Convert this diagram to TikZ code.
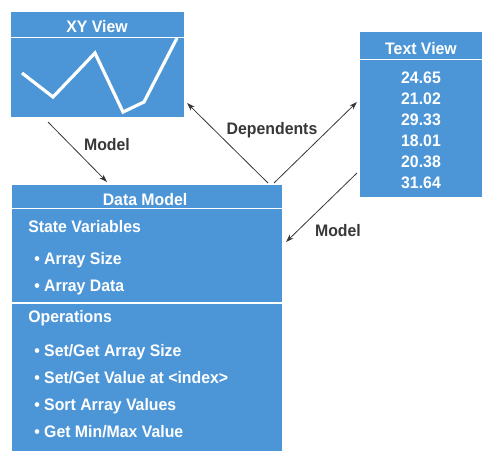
\documentclass[tikz,border=0pt]{standalone}
\usepackage{fontspec}
\setmainfont{Liberation Sans}[FakeStretch=0.95]
\usetikzlibrary{arrows.meta,positioning}

\definecolor{panel}{RGB}{76,150,216}
\definecolor{ink}{RGB}{55,55,55}

\tikzset{
    panelbox/.style={fill=panel, inner sep=0pt, anchor=north west},
    titletxt/.style={text=white, font=\bfseries\fontsize{12.5}{14}\selectfont, inner sep=0pt, anchor=base},
    itemtxt/.style={text=white, font=\bfseries\fontsize{12.5}{14}\selectfont, inner sep=0pt, anchor=base west},
    numtxt/.style={text=white, font=\bfseries\fontsize{12.5}{14}\selectfont, inner sep=0pt, anchor=base},
    linktxt/.style={text=ink, font=\bfseries\fontsize{12.5}{14}\selectfont, inner sep=0pt, anchor=base},
    link/.style={draw=ink, line width=0.6pt, -{Stealth[length=6pt,width=4pt]}},
    rule/.style={draw=white, line width=1.4pt}
}

\begin{document}
\begin{tikzpicture}[x=0.75pt, y=-0.75pt]
    \useasboundingbox (0,0) rectangle (482,451);

    % Boxes
    \node[panelbox, minimum width=173*0.75pt, minimum height=105*0.75pt] (xy) at (11,12) {};
    \node[panelbox, minimum width=122*0.75pt, minimum height=165*0.75pt] (tv) at (360,32) {};
    \node[panelbox, minimum width=270*0.75pt, minimum height=266*0.75pt] (dm) at (12,185) {};

    % Title rules
    \draw[rule] (11,37.5) -- (184,37.5);
    \draw[rule] (360,59.5) -- (482,59.5);
    \draw[rule] (12,208.5) -- (282,208.5);
    \draw[rule] (12,303) -- (282,303);

    % Titles
    \node[titletxt] (xyt) at (97,32) {XY View};
    \node[titletxt] (tvt) at (421,54) {Text View};
    \node[titletxt] (dmt) at (145,205) {Data Model};

    % XY plot
    \draw[white, line width=2.4pt, line join=miter]
        (22,73) -- (53,97) -- (95,53) -- (123,112) -- (144,102) -- (177,38);

    % Text View values
    \node[numtxt] (v1) at (421,83) {24.65};
    \node[numtxt] (v2) at (421,104) {21.02};
    \node[numtxt] (v3) at (421,125) {29.33};
    \node[numtxt] (v4) at (421,146) {18.01};
    \node[numtxt] (v5) at (421,167) {20.38};
    \node[numtxt] (v6) at (421,188) {31.64};

    % Data Model contents
    \node[itemtxt] (sv) at (28,232) {State Variables};
    \node[itemtxt] (sv1) at (34,264) {• Array Size};
    \node[itemtxt] (sv2) at (34,291) {• Array Data};
    \node[itemtxt] (op) at (28,322) {Operations};
    \node[itemtxt] (op1) at (34,356) {• Set/Get Array Size};
    \node[itemtxt] (op2) at (34,383) {• Set/Get Value at <index>};
    \node[itemtxt] (op3) at (34,410) {• Sort Array Values};
    \node[itemtxt] (op4) at (34,437) {• Get Min/Max Value};

    % Arrow ends
    \coordinate (xyout) at (48,122);
    \coordinate (dmin) at (107,182);
    \coordinate (depa) at (268,183);
    \coordinate (depb) at (274,183);
    \coordinate (xyin) at (187,103);
    \coordinate (tvin) at (357,102);
    \coordinate (tvout) at (357,173);
    \coordinate (dmside) at (286,242);

    % Arrows
    \draw[link] (xyout) -- (dmin);
    \draw[link] (depa) -- (xyin);
    \draw[link] (depb) -- (tvin);
    \draw[link] (tvout) -- (dmside);

    % Labels
    \node[linktxt] (m1) at (107,150) {Model};
    \node[linktxt] (dep) at (272,134) {Dependents};
    \node[linktxt] (m2) at (338,236) {Model};
\end{tikzpicture}
\end{document}
